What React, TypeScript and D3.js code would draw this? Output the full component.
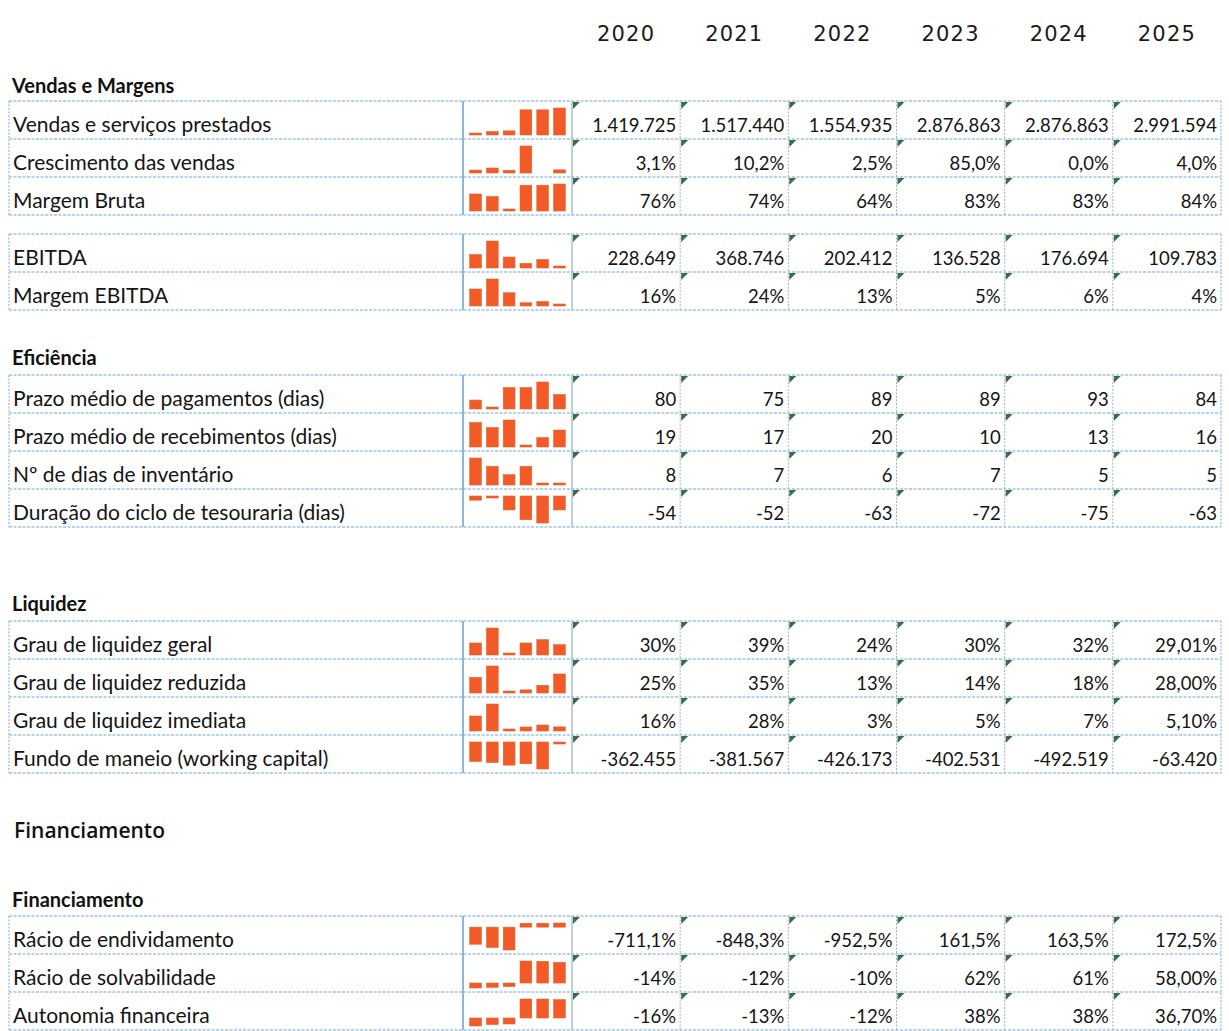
import React from "react";
import * as d3 from "d3";

const years = ["2020", "2021", "2022", "2023", "2024", "2025"];

// Vendas e Margens
const salesLabels = ["Vendas e serviços prestados", "Crescimento das vendas", "Margem Bruta"];
const salesValues = [
  [1419725, 1517440, 1554935, 2876863, 2876863, 2991594],
  [3.1, 10.2, 2.5, 85.0, 0.0, 4.0],
  [76, 74, 64, 83, 83, 84],
];
const salesDecimals = [
  [0, 0, 0, 0, 0, 0],
  [1, 1, 1, 1, 1, 1],
  [0, 0, 0, 0, 0, 0],
];
const salesUnits = ["", "%", "%"];

// EBITDA
const ebitdaLabels = ["EBITDA", "Margem EBITDA"];
const ebitdaValues = [
  [228649, 368746, 202412, 136528, 176694, 109783],
  [16, 24, 13, 5, 6, 4],
];
const ebitdaDecimals = [
  [0, 0, 0, 0, 0, 0],
  [0, 0, 0, 0, 0, 0],
];
const ebitdaUnits = ["", "%"];

// Eficiência
const effLabels = [
  "Prazo médio de pagamentos (dias)",
  "Prazo médio de recebimentos (dias)",
  "Nº de dias de inventário",
  "Duração do ciclo de tesouraria (dias)",
];
const effValues = [
  [80, 75, 89, 89, 93, 84],
  [19, 17, 20, 10, 13, 16],
  [8, 7, 6, 7, 5, 5],
  [-54, -52, -63, -72, -75, -63],
];
const effDecimals = [
  [0, 0, 0, 0, 0, 0],
  [0, 0, 0, 0, 0, 0],
  [0, 0, 0, 0, 0, 0],
  [0, 0, 0, 0, 0, 0],
];
const effUnits = ["", "", "", ""];

// Liquidez
const liqLabels = [
  "Grau de liquidez geral",
  "Grau de liquidez reduzida",
  "Grau de liquidez imediata",
  "Fundo de maneio (working capital)",
];
const liqValues = [
  [30, 39, 24, 30, 32, 29.01],
  [25, 35, 13, 14, 18, 28.0],
  [16, 28, 3, 5, 7, 5.1],
  [-362455, -381567, -426173, -402531, -492519, -63420],
];
const liqDecimals = [
  [0, 0, 0, 0, 0, 2],
  [0, 0, 0, 0, 0, 2],
  [0, 0, 0, 0, 0, 2],
  [0, 0, 0, 0, 0, 0],
];
const liqUnits = ["%", "%", "%", ""];

// Financiamento
const finLabels = ["Rácio de endividamento", "Rácio de solvabilidade", "Autonomia financeira"];
const finValues = [
  [-711.1, -848.3, -952.5, 161.5, 163.5, 172.5],
  [-14, -12, -10, 62, 61, 58.0],
  [-16, -13, -12, 38, 38, 36.7],
];
const finDecimals = [
  [1, 1, 1, 1, 1, 1],
  [0, 0, 0, 0, 0, 2],
  [0, 0, 0, 0, 0, 2],
];
const finUnits = ["%", "%", "%"];

const locale = d3.formatLocale({
  decimal: ",",
  thousands: ".",
  grouping: [3],
  currency: ["", ""],
  minus: "-",
});
const fmt = (v: number, dec: number, unit: string) => locale.format(`,.${dec}f`)(v) + unit;

const FONT = "Lato, 'Noto Sans', sans-serif";
const W = 1229;
const H = 1031;
const LEFT = 9;
const SPARK_X = 463;
const VAL_X = 572;
const RIGHT = 1221;
const ROW_H = 38;
const BAR_COLOR = "#F25A28";

const colX = d3
  .scaleBand<string>()
  .domain(years)
  .range([VAL_X, RIGHT])
  .paddingInner(0)
  .paddingOuter(0);

type TableDef = {
  top: number;
  labels: string[];
  values: number[][];
  decimals: number[][];
  units: string[];
};

const tables: TableDef[] = [
  { top: 101, labels: salesLabels, values: salesValues, decimals: salesDecimals, units: salesUnits },
  { top: 234, labels: ebitdaLabels, values: ebitdaValues, decimals: ebitdaDecimals, units: ebitdaUnits },
  { top: 375, labels: effLabels, values: effValues, decimals: effDecimals, units: effUnits },
  { top: 621, labels: liqLabels, values: liqValues, decimals: liqDecimals, units: liqUnits },
  { top: 916, labels: finLabels, values: finValues, decimals: finDecimals, units: finUnits },
];

function Spark({ top, values }: { top: number; values: number[] }) {
  const xs = d3
    .scaleBand<number>()
    .domain(d3.range(values.length))
    .range([SPARK_X + 5, VAL_X - 5])
    .paddingInner(0.3)
    .paddingOuter(0.1);
  const lo = d3.min(values) as number;
  const hi = d3.max(values) as number;
  const aTop = top + 7;
  const aBot = top + ROW_H - 4;
  const minH = 2;
  const rects: { x: number; y: number; h: number }[] = [];
  if (lo >= 0) {
    const y = d3.scaleLinear().domain([lo, hi]).range([aBot - minH, aTop]);
    values.forEach((v, i) => {
      if (v === 0) return;
      rects.push({ x: xs(i) as number, y: y(v), h: aBot - y(v) });
    });
  } else if (hi <= 0) {
    const y = d3.scaleLinear().domain([hi, lo]).range([aTop + minH, aBot]);
    values.forEach((v, i) => {
      rects.push({ x: xs(i) as number, y: aTop, h: y(v) - aTop });
    });
  } else {
    const y = d3.scaleLinear().domain([lo, hi]).range([aBot, aTop]);
    const y0 = y(0);
    values.forEach((v, i) => {
      const hh = Math.max(minH, Math.abs(y(v) - y0));
      rects.push({ x: xs(i) as number, y: v >= 0 ? y0 - hh : y0, h: hh });
    });
  }
  return (
    <g>
      {rects.map((r, i) => (
        <rect key={i} x={r.x} y={r.y} width={xs.bandwidth()} height={r.h} fill={BAR_COLOR} stroke="#E0662C" strokeWidth={0.6} />
      ))}
    </g>
  );
}

function Table({ t }: { t: TableDef }) {
  const n = t.labels.length;
  const bottom = Math.min(H, t.top + n * ROW_H);
  const lines = d3.range(n + 1).map((i) => t.top + i * ROW_H).filter((y) => y <= H);
  return (
    <g>
      {lines.map((y, i) => (
        <line key={"h" + i} x1={LEFT} x2={RIGHT} y1={y} y2={y} stroke="#6FA8DC" strokeWidth={1.2} strokeDasharray="3 1.5" />
      ))}
      <line x1={LEFT} x2={LEFT} y1={t.top} y2={bottom} stroke="#7FA9D6" strokeWidth={1} strokeDasharray="2 1.5" />
      <line x1={RIGHT} x2={RIGHT} y1={t.top} y2={bottom} stroke="#7FA9D6" strokeWidth={1} strokeDasharray="2 1.5" />
      <line x1={SPARK_X} x2={SPARK_X} y1={t.top} y2={bottom} stroke="#4F8FD6" strokeWidth={1.3} />
      <line x1={VAL_X} x2={VAL_X} y1={t.top} y2={bottom} stroke="#8FAFD0" strokeWidth={1.2} />
      {years.slice(1).map((yr) => (
        <line key={"v" + yr} x1={colX(yr)} x2={colX(yr)} y1={t.top} y2={bottom} stroke="#9DB2C8" strokeWidth={1} strokeDasharray="2 1.5" />
      ))}
      {t.labels.map((lab, r) => {
        const rt = t.top + r * ROW_H;
        return (
          <g key={lab}>
            <text x={LEFT + 4} y={rt + ROW_H - 7} fontFamily={FONT} fontSize={21} fill="#141414">
              {lab}
            </text>
            <Spark top={rt} values={t.values[r]} />
            {years.map((yr, c) => {
              const cx = colX(yr) as number;
              return (
                <g key={yr}>
                  <path d={`M${cx + 1},${rt + 1}h7l-7,7z`} fill="#3D6B47" />
                  <text
                    x={cx + colX.bandwidth() - 4}
                    y={rt + ROW_H - 7}
                    textAnchor="end"
                    fontFamily={FONT}
                    fontSize={18.5}
                    fill="#141414"
                  >
                    {fmt(t.values[r][c], t.decimals[r][c], t.units[r])}
                  </text>
                </g>
              );
            })}
          </g>
        );
      })}
    </g>
  );
}

const headings = [
  { text: "Vendas e Margens", y: 93, size: 20, weight: 700, family: FONT },
  { text: "Eficiência", y: 365, size: 20, weight: 700, family: FONT },
  { text: "Liquidez", y: 611, size: 20, weight: 700, family: FONT },
  { text: "Financiamento", y: 838, size: 21, weight: 600, family: "'Open Sans', sans-serif" },
  { text: "Financiamento", y: 907, size: 20, weight: 700, family: FONT },
];

export default function App() {
  return (
    <svg width={W} height={H} style={{ position: "absolute", left: 0, top: 0, background: "#fff" }}>
      <rect x={0} y={0} width={W} height={H} fill="#fff" />
      {years.map((yr) => (
        <text
          key={yr}
          x={(colX(yr) as number) + colX.bandwidth() / 2}
          y={41}
          textAnchor="middle"
          fontFamily="'DejaVu Sans', sans-serif"
          fontSize={21}
          letterSpacing={1.2}
          fill="#1a1a1a"
        >
          {yr}
        </text>
      ))}
      {headings.map((h, i) => (
        <text key={i} x={i === 3 ? 14 : 12} y={h.y} fontFamily={h.family} fontSize={h.size} fontWeight={h.weight} fill="#111">
          {h.text}
        </text>
      ))}
      {tables.map((t, i) => (
        <Table key={i} t={t} />
      ))}
    </svg>
  );
}
